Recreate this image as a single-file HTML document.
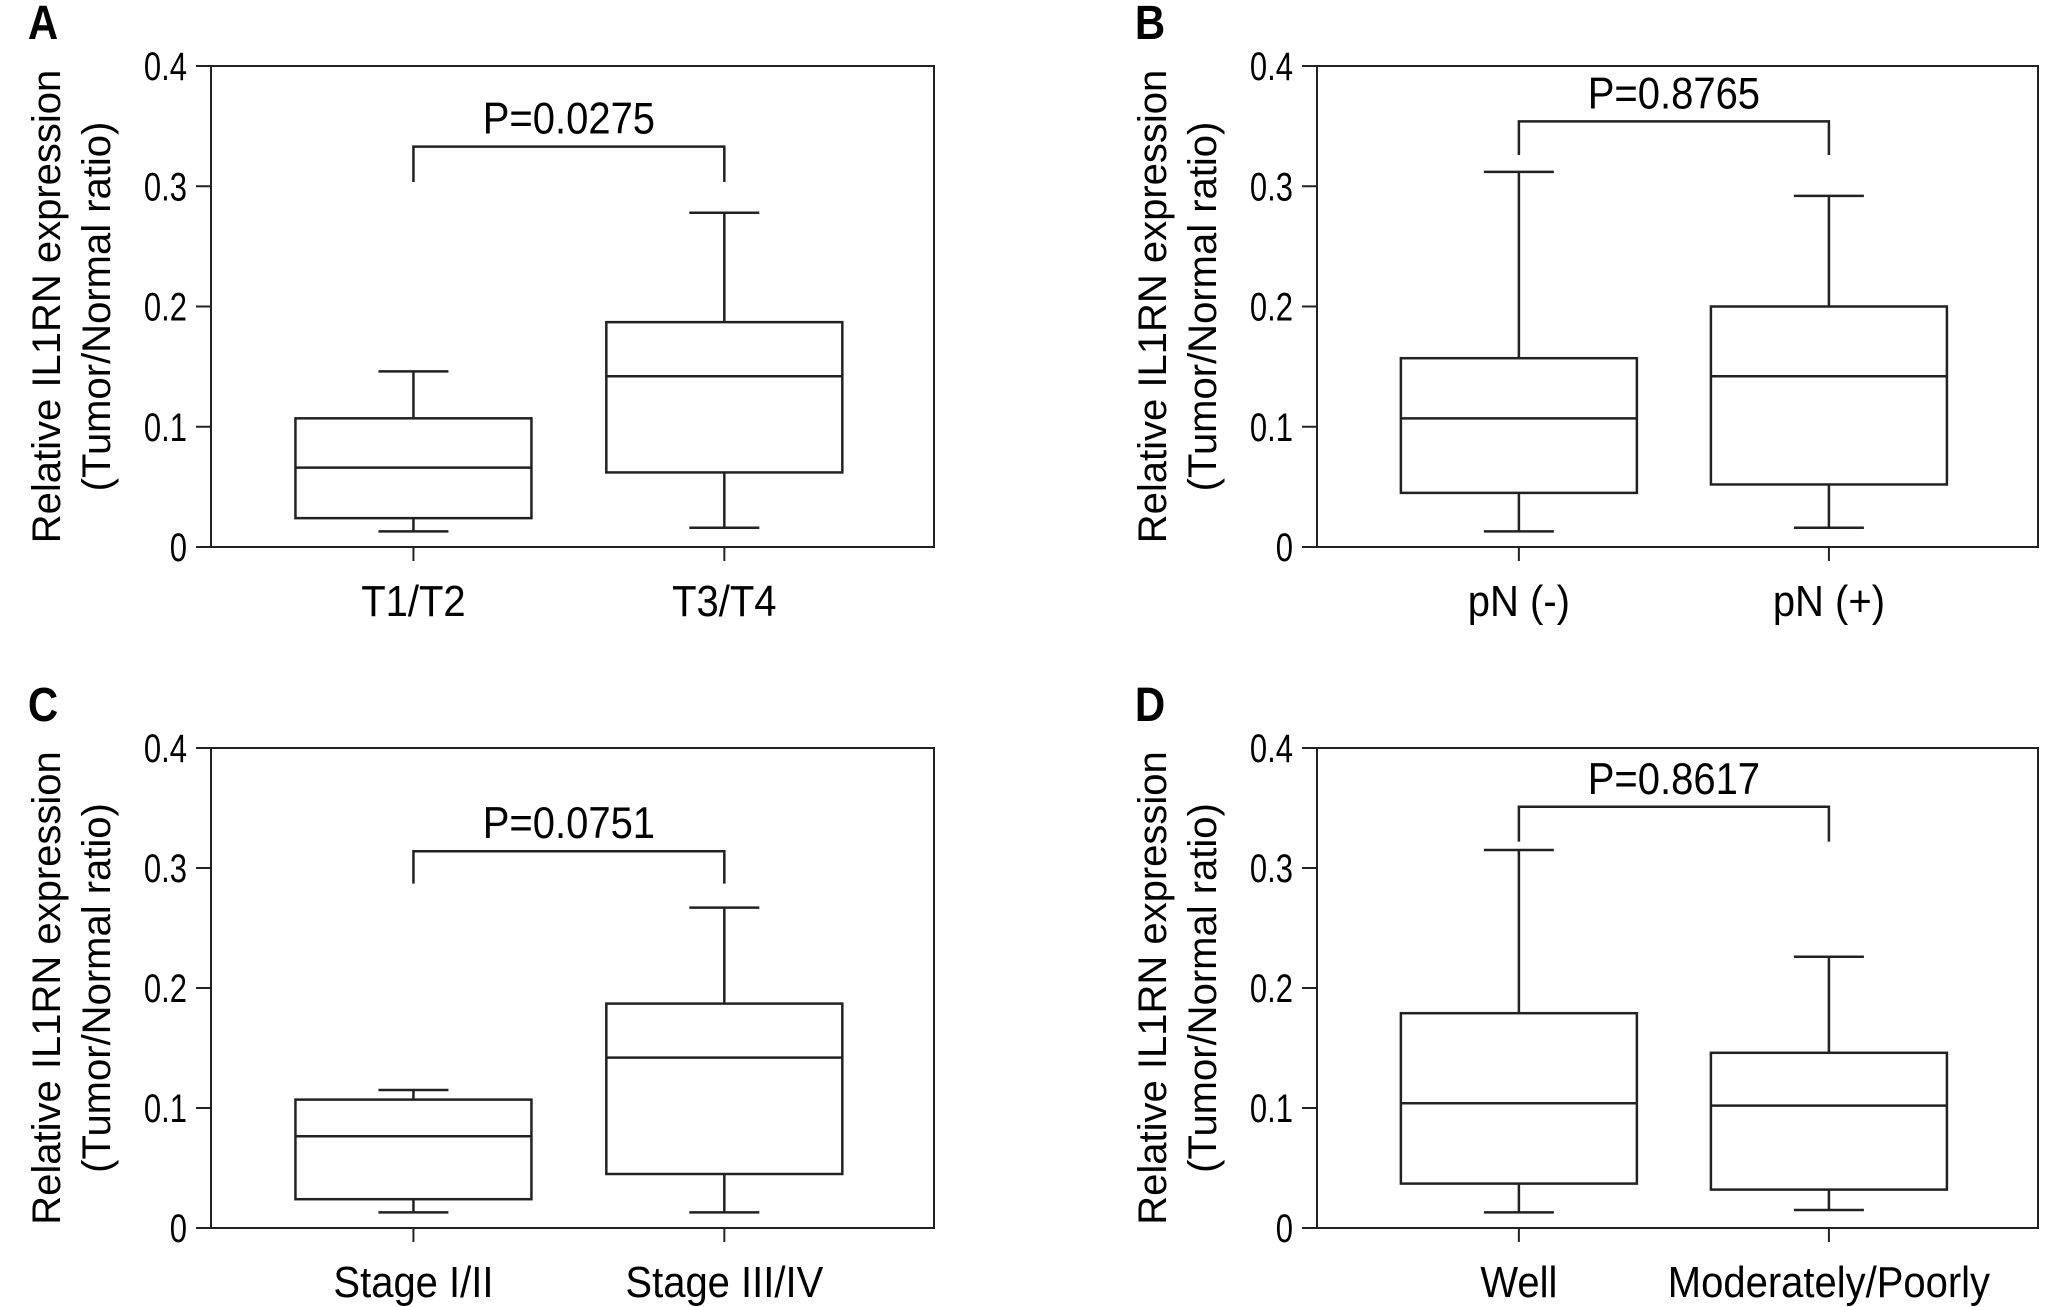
<!DOCTYPE html>
<html><head><meta charset="utf-8"><style>
html,body{margin:0;padding:0;background:#fff;}
svg{display:block;font-family:"Liberation Sans",Arial,sans-serif;}
</style></head><body>
<svg id="fig" width="2055" height="1307" viewBox="0 0 2055 1307" xmlns="http://www.w3.org/2000/svg"></svg>
<script>
const panelLetters = ["A","B","C","D"];
const categoriesA = ["T1/T2","T3/T4"];
const categoriesB = ["pN (-)","pN (+)"];
const categoriesC = ["Stage I/II","Stage III/IV"];
const categoriesD = ["Well","Moderately/Poorly"];
// [min, q1, median, q3, max]
const boxesA = [[0.013,0.024,0.066,0.107,0.146],[0.016,0.062,0.142,0.187,0.278]];
const boxesB = [[0.013,0.045,0.107,0.157,0.312],[0.016,0.052,0.142,0.200,0.292]];
const boxesC = [[0.013,0.024,0.0765,0.107,0.115],[0.013,0.045,0.142,0.187,0.267]];
const boxesD = [[0.013,0.037,0.104,0.179,0.315],[0.015,0.032,0.102,0.146,0.226]];
const pLabels = ["P=0.0275","P=0.8765","P=0.0751","P=0.8617"];
// bracket [top value, drop value]
const bracketA = [0.333,0.3035];
const bracketB = [0.354,0.326];
const bracketC = [0.314,0.287];
const bracketD = [0.351,0.322];
const yTicks = [0,0.1,0.2,0.3,0.4];
const yTickLabels = ["0","0.1","0.2","0.3","0.4"];

const NS="http://www.w3.org/2000/svg";
const svg=document.getElementById('fig');
function mk(tag,attrs,parent){const e=document.createElementNS(NS,tag);for(const k in attrs)e.setAttribute(k,attrs[k]);(parent||svg).appendChild(e);return e;}

const layouts=[
 {x0:211,x1:934,yTop:66,yBot:547,lx:43,ly:24},
 {x0:1317,x1:2038,yTop:66,yBot:547,lx:1150,ly:24},
 {x0:211,x1:934,yTop:748,yBot:1228,lx:43,ly:706},
 {x0:1317,x1:2038,yTop:748,yBot:1228,lx:1150,ly:706}
];
const cats=[categoriesA,categoriesB,categoriesC,categoriesD];
const boxes=[boxesA,boxesB,boxesC,boxesD];
const brackets=[bracketA,bracketB,bracketC,bracketD];

layouts.forEach((L,pi)=>{
  const g=mk('g',{});
  
  
  const yS=v=>L.yBot-(v/0.4)*(L.yBot-L.yTop);
  const W=L.x1-L.x0;
  const xS=i=>L.x0+W*(i===0?0.28:0.71);
  const letter=mk('text',{x:0,y:0,'font-size':42,'font-weight':'bold','text-anchor':'middle',transform:`translate(${L.lx},${L.ly+15}) scale(1,1.15)`},g);
  letter.textContent=panelLetters[pi];
  
  
  const frame=mk('rect',{x:L.x0,y:L.yTop,width:W,height:L.yBot-L.yTop,fill:'none',stroke:'#222','stroke-width':2},g);
  
  
  yTicks.forEach((t,i)=>{
    const y=yS(t);
    const tk=mk('line',{x1:L.x0-15,x2:L.x0,y1:y,y2:y,stroke:'#222','stroke-width':2},g);
    
    
    const tl=mk('text',{x:0,y:0,'font-size':31,'text-anchor':'end',transform:`translate(${L.x0-24},${y+14}) scale(1,1.3)`},g);
    tl.textContent=yTickLabels[i];
    
    
  });
  const cy=(L.yTop+L.yBot)/2;
  const t1=mk('text',{x:0,y:0,'font-size':40,'text-anchor':'middle',transform:`translate(${L.x0-151},${cy}) rotate(-90)`},g);
  t1.textContent="Relative IL1RN expression";
  
  
  const t2=mk('text',{x:0,y:0,'font-size':40,'text-anchor':'middle',transform:`translate(${L.x0-101},${cy}) rotate(-90)`},g);
  t2.textContent="(Tumor/Normal ratio)";
  
  
  const bw=236, cap=70;
  cats[pi].forEach((c,i)=>{
    const x=xS(i);
    const tk=mk('line',{x1:x,x2:x,y1:L.yBot,y2:L.yBot+14,stroke:'#222','stroke-width':2},g);
    
    
    const cl=mk('text',{x:0,y:0,'font-size':40,'text-anchor':'middle',transform:`translate(${x},${L.yBot+69}) scale(1,1.1)`},g);
    cl.textContent=c;
    
    
    const b=boxes[pi][i];
    const bg=mk('g',{stroke:'#222','stroke-width':2.5,fill:'none'},g);
    
    
    mk('line',{x1:x,x2:x,y1:yS(b[4]),y2:yS(b[3])},bg);
    mk('line',{x1:x,x2:x,y1:yS(b[1]),y2:yS(b[0])},bg);
    mk('line',{x1:x-cap/2,x2:x+cap/2,y1:yS(b[4]),y2:yS(b[4])},bg);
    mk('line',{x1:x-cap/2,x2:x+cap/2,y1:yS(b[0]),y2:yS(b[0])},bg);
    mk('rect',{x:x-bw/2,y:yS(b[3]),width:bw,height:yS(b[1])-yS(b[3])},bg);
    mk('line',{x1:x-bw/2,x2:x+bw/2,y1:yS(b[2]),y2:yS(b[2])},bg);
  });
  const br=brackets[pi];
  const xa=xS(0), xb=xS(1);
  const bp=mk('polyline',{points:`${xa},${yS(br[1])} ${xa},${yS(br[0])} ${xb},${yS(br[0])} ${xb},${yS(br[1])}`,fill:'none',stroke:'#222','stroke-width':2.5},g);
  
  
  const pt=mk('text',{x:0,y:0,'font-size':40,'text-anchor':'middle',transform:`translate(${(xa+xb)/2},${yS(br[0])-13}) scale(1,1.12)`},g);
  pt.textContent=pLabels[pi];
  
  
});
</script>
</body></html>
